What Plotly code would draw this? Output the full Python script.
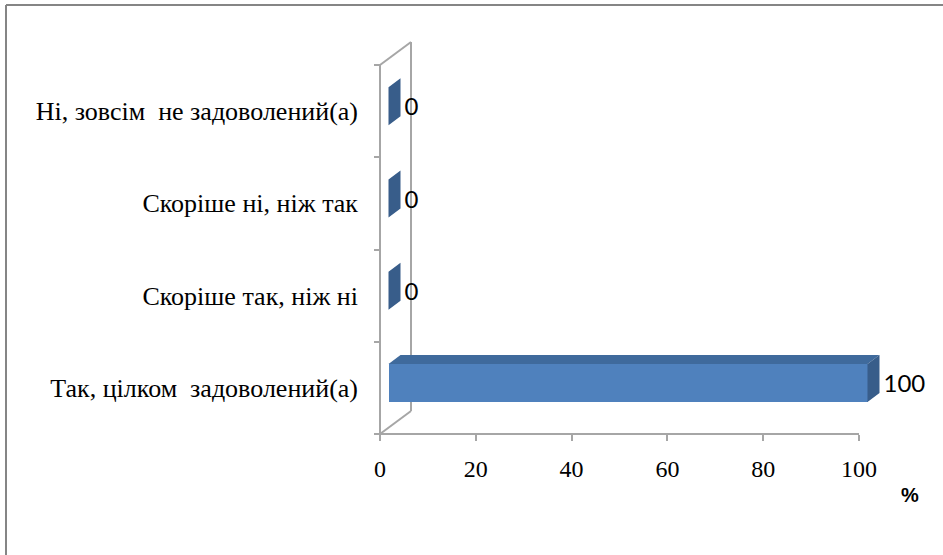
import plotly.graph_objects as go

# ---- data ----
categories = ["Так, цілком  задоволений(а)", "Скоріше так, ніж ні",
              "Скоріше ні, ніж так", "Ні, зовсім  не задоволений(а)"]
values = [100, 0, 0, 0]
x_ticks = [0, 20, 40, 60, 80, 100]
x_unit_label = "%"

# ---- geometry (pixels -> data) ----
W, H = 943, 555
ML, MR, MT, MB = 370, 0, 30, 110
PX0, PX100 = 380, 859          # pixel of value 0 / 100
PY_BOT, PY_TOP = 434, 65        # pixel of category -0.5 / 3.5
sx = (PX100 - PX0) / 100.0
sy = (PY_BOT - PY_TOP) / 4.0
plot_w = W - ML - MR
plot_h = H - MT - MB
xr = [-(PX0 - ML) / sx, (W - MR - PX0) / sx]
yr = [-0.5 - ((H - MB) - PY_BOT) / sy, 3.5 + (PY_TOP - MT) / sy]

def ux(px):
    return px / sx

def uy(px):
    return px / sy

pos = list(range(len(categories)))
ox, oy = ux(8.5), uy(5)          # front-face offset of bars
hh = uy(19)                      # half bar thickness
dx, dy = ux(12), uy(9)           # bar depth
wdx, wdy = ux(31), uy(23)        # wall depth

AX = "#A6A6A6"
FRONT = "#4F81BD"
TOP = "#3F6A9C"
SIDE = "#385D8A"

fig = go.Figure()

# front faces
fig.add_trace(go.Bar(
    y=[p + oy for p in pos], x=values, base=[ox] * len(values),
    orientation="h", width=2 * hh, marker=dict(color=FRONT, line=dict(width=0)),
    hoverinfo="skip", showlegend=False))

# top faces and side faces
tx, ty, sxs, sys_ = [], [], [], []
for p, v in zip(pos, values):
    b = p + oy - hh
    t = p + oy + hh
    if v > 0:
        tx += [ox, ox + v, ox + v + dx, ox + dx, ox, None]
        ty += [t, t, t + dy, t + dy, t, None]
    sxs += [ox + v, ox + v + dx, ox + v + dx, ox + v, ox + v, None]
    sys_ += [b, b + dy, t + dy, t, b, None]
fig.add_trace(go.Scatter(x=tx, y=ty, mode="lines", fill="toself", fillcolor=TOP,
                         line=dict(width=0, color=TOP), hoverinfo="skip", showlegend=False))
fig.add_trace(go.Scatter(x=sxs, y=sys_, mode="lines", fill="toself", fillcolor=SIDE,
                         line=dict(width=0, color=SIDE), hoverinfo="skip", showlegend=False))

# data labels
fig.add_trace(go.Scatter(
    x=[v + ox + dx + ux(4) for v in values], y=[p + 0.02 for p in pos],
    mode="text", text=[str(v) for v in values], textposition="middle right",
    textfont=dict(family="Lato", size=24, color="black"),
    cliponaxis=False, hoverinfo="skip", showlegend=False))

shapes = []
# axis lines
shapes.append(dict(type="line", xref="x", yref="y", x0=0, x1=100, y0=-0.5, y1=-0.5,
                   line=dict(color=AX, width=2), layer="below"))
shapes.append(dict(type="line", xref="x", yref="y", x0=0, x1=0, y0=-0.5, y1=3.5,
                   line=dict(color=AX, width=2), layer="below"))
# side wall outline
shapes.append(dict(type="line", xref="x", yref="y", x0=0, x1=wdx, y0=-0.5, y1=-0.5 + wdy,
                   line=dict(color=AX, width=2), layer="below"))
shapes.append(dict(type="line", xref="x", yref="y", x0=wdx, x1=wdx, y0=-0.5 + wdy, y1=3.5 + wdy,
                   line=dict(color=AX, width=2), layer="below"))
shapes.append(dict(type="line", xref="x", yref="y", x0=0, x1=wdx, y0=3.5, y1=3.5 + wdy,
                   line=dict(color=AX, width=2), layer="below"))

# outer chart border
def paper_x(px):
    return (px - ML) / plot_w

def paper_y(py):
    return ((H - MB) - py) / plot_h

shapes.append(dict(type="line", xref="paper", yref="paper", x0=paper_x(6), x1=paper_x(960),
                   y0=paper_y(5), y1=paper_y(5), line=dict(color="#858585", width=2)))
shapes.append(dict(type="line", xref="paper", yref="paper", x0=paper_x(6), x1=paper_x(6),
                   y0=paper_y(5), y1=paper_y(570), line=dict(color="#858585", width=2)))

SERIF = "Liberation Serif, Times New Roman, serif"

fig.update_layout(
    width=W, height=H,
    margin=dict(l=ML, r=MR, t=MT, b=MB, pad=0),
    paper_bgcolor="white", plot_bgcolor="white",
    showlegend=False,
    bargap=0,
    shapes=shapes,
    xaxis=dict(range=xr, showgrid=False, zeroline=False, showline=False,
               tickmode="array", tickvals=x_ticks, ticktext=[str(t) for t in x_ticks],
               ticks="outside", ticklen=6, tickwidth=1.5, tickcolor=AX,
               tickfont=dict(family=SERIF, size=24, color="black"),
               anchor="free", position=paper_y(PY_BOT), ticklabelstandoff=7),
    yaxis=dict(range=yr, showgrid=False, zeroline=False, showline=False,
               tickmode="array", tickvals=pos, ticktext=categories,
               ticks="", tickfont=dict(family=SERIF, size=26, color="black"),
               minor=dict(tickmode="array", tickvals=[-0.5, 0.5, 1.5, 2.5, 3.5],
                          ticks="outside", ticklen=6, tickwidth=1.5, tickcolor=AX),
               anchor="free", position=paper_x(PX0), ticklabelstandoff=22),
    annotations=[dict(text="<b>%s</b>" % x_unit_label, xref="paper", yref="paper",
                      x=paper_x(910), y=paper_y(495), showarrow=False,
                      xanchor="center", yanchor="middle",
                      font=dict(family="Liberation Sans", size=20, color="black"))],
)

fig.write_html("out.html", config={"displayModeBar": False},
               post_script="document.body.style.margin='0';")
